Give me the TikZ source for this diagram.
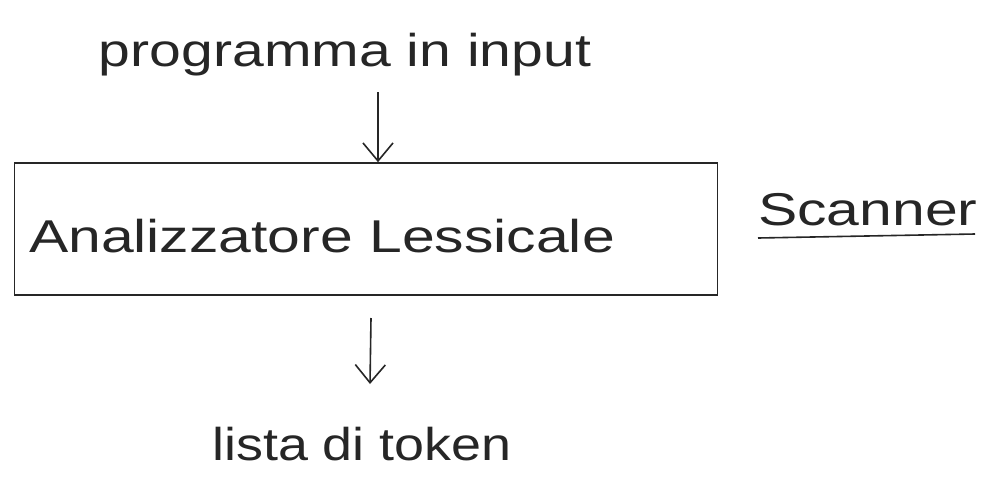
\documentclass[tikz,border=0pt]{standalone}
\usepackage{fontspec}
\setmainfont{Liberation Sans}
\usetikzlibrary{arrows.meta}
\begin{document}
\begin{tikzpicture}[x=1pt,y=-1pt,
  ink/.style={draw=black!85, line width=1.6pt},
  hand/.style={font=\fontsize{46}{52}\selectfont, text=black!85, inner sep=0pt, xscale=1.28},
  flow/.style={ink, -{Straight Barb[length=18pt,width=30pt]}}]
  \useasboundingbox (0,0) rectangle (983,480);
  \fill[white] (0,0) rectangle (983,480);

  % input text
  \node[hand, xscale=0.97] (input) at (345,55) {programma in input};

  % lexical analyser box
  \node[ink, minimum width=703pt, minimum height=132pt, inner sep=0pt] (lexer) at (366,229) {};
  \node[hand] (lexlabel) at (322,236) {Analizzatore Lessicale};

  % side label with underline
  \node[hand, anchor=west] (scanner) at (758,210) {Scanner};
  \coordinate (ul1) at (758,238);
  \coordinate (ul2) at (975,234);
  \draw[ink] (ul1) -- (ul2);

  % output text
  \node[hand, xscale=0.915] (tokens) at (362,444) {lista di token};

  % connectors
  \coordinate (a1) at (378,92);
  \coordinate (b1) at (371,318);
  \coordinate (b2) at (370,384);
  \draw[flow] (a1) -- (lexer.north -| a1);
  \draw[flow] (b1) -- (b2);
\end{tikzpicture}
\end{document}
